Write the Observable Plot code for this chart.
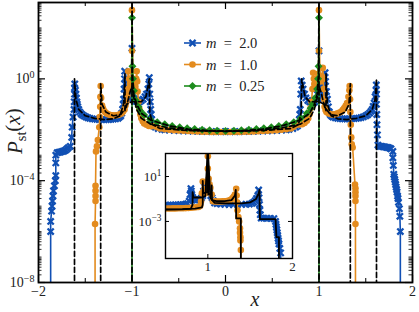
<!DOCTYPE html>
<html><head><meta charset="utf-8">
<script src="https://cdn.jsdelivr.net/npm/d3@7"></script>
<script src="https://cdn.jsdelivr.net/npm/@observablehq/plot@0.6"></script>
<style>
html,body{margin:0;padding:0;background:#fff;}
#chart{position:relative;width:419px;height:312px;overflow:hidden;background:#fff;}
#main{position:absolute;left:0;top:0;}
#inset{position:absolute;left:135px;top:151px;}
</style></head><body>
<div id="chart"><div id="main"></div><div id="inset"></div></div>
<script>
// ---- data: [x, log10 P] ----
const blueMain = [[-1.87,-9],[-1.87,-6.0],[-1.87,-5.6],[-1.86,-5.2],[-1.855,-5.0],[-1.85,-4.8],[-1.845,-4.6],[-1.84,-4.4],[-1.83,-4.2],[-1.82,-4.0],[-1.815,-3.8],[-1.815,-3.3],[-1.815,-3.0],[-1.8,-2.9],[-1.785,-2.89],[-1.77,-2.88],[-1.755,-2.86],[-1.74,-2.85],[-1.725,-2.83],[-1.71,-2.8],[-1.695,-2.75],[-1.68,-2.7],[-1.66,-2.65],[-1.645,-2.3],[-1.64,-1.9],[-1.63,-1.5],[-1.62,-1.2],[-1.618,-0.9],[-1.615,-0.6],[-1.615,-0.35],[-1.612,-0.2],[-1.605,-0.45],[-1.6,-0.6],[-1.595,-0.75],[-1.59,-0.9],[-1.585,-1.0],[-1.58,-1.1],[-1.57,-1.2],[-1.56,-1.3],[-1.545,-1.37],[-1.53,-1.42],[-1.51,-1.46],[-1.49,-1.5],[-1.47,-1.53],[-1.45,-1.55],[-1.425,-1.57],[-1.4,-1.58],[-1.375,-1.59],[-1.35,-1.6],[-1.325,-1.6],[-1.3,-1.6],[-1.275,-1.6],[-1.25,-1.6],[-1.225,-1.59],[-1.2,-1.58],[-1.175,-1.57],[-1.15,-1.55],[-1.135,-1.5],[-1.12,-1.45],[-1.11,-1.35],[-1.1,-1.2],[-1.095,-1.0],[-1.09,-0.8],[-1.085,-0.4],[-1.08,0.0],[-1.078,0.3],[-1.075,-0.2],[-1.07,-0.6],[-1.06,-0.75],[-1.05,-0.8],[-1.04,-0.8],[-1.03,-0.75],[-1.02,-0.6],[-1.01,-0.2],[-1.0,1.2],[-0.99,-0.3],[-0.98,-0.6],[-0.97,-0.8],[-0.955,-0.88],[-0.94,-0.9],[-0.92,-0.9],[-0.9,-0.85],[-0.88,-0.8],[-0.86,-0.7],[-0.845,-0.6],[-0.83,-0.4],[-0.82,-0.2],[-0.815,0.05],[-0.81,-0.6],[-0.805,-0.9],[-0.8,-1.2],[-0.795,-1.4],[-0.79,-1.6],[-0.78,-1.75],[-0.77,-1.85],[-0.75,-1.9],[-0.72,-1.95],[-0.68,-1.98],[-0.65,-2.0],[-0.6,-2.01],[-0.55,-2.02],[-0.5,-2.03],[-0.45,-2.04],[-0.4,-2.045],[-0.35,-2.05],[-0.3,-2.055],[-0.25,-2.06],[-0.2,-2.065],[-0.15,-2.07],[-0.1,-2.07],[-0.05,-2.07],[0,-2.07],[0.05,-2.07],[0.1,-2.07],[0.15,-2.07],[0.2,-2.065],[0.25,-2.06],[0.3,-2.055],[0.35,-2.05],[0.4,-2.045],[0.45,-2.04],[0.5,-2.03],[0.55,-2.02],[0.6,-2.01],[0.65,-2.0],[0.68,-1.98],[0.72,-1.95],[0.75,-1.9],[0.77,-1.85],[0.78,-1.75],[0.79,-1.6],[0.795,-1.4],[0.8,-1.2],[0.805,-0.6],[0.81,-0.08],[0.82,-0.25],[0.83,-0.4],[0.845,-0.6],[0.86,-0.75],[0.88,-0.85],[0.9,-0.9],[0.92,-0.93],[0.94,-0.95],[0.955,-0.9],[0.97,-0.8],[0.98,-0.6],[0.99,-0.3],[1.0,1.1],[1.01,-0.2],[1.02,-0.5],[1.03,-0.7],[1.04,-0.78],[1.05,-0.75],[1.055,-0.55],[1.06,-0.3],[1.065,0.24],[1.07,-0.1],[1.08,-0.5],[1.09,-0.8],[1.1,-1.1],[1.11,-1.3],[1.12,-1.4],[1.135,-1.46],[1.15,-1.5],[1.175,-1.53],[1.2,-1.55],[1.225,-1.56],[1.25,-1.57],[1.275,-1.57],[1.3,-1.57],[1.325,-1.57],[1.35,-1.56],[1.375,-1.56],[1.4,-1.55],[1.425,-1.54],[1.45,-1.52],[1.475,-1.49],[1.5,-1.45],[1.52,-1.41],[1.54,-1.35],[1.555,-1.28],[1.57,-1.2],[1.58,-1.08],[1.59,-0.95],[1.6,-0.7],[1.61,-0.45],[1.613,-0.24],[1.615,-0.6],[1.615,-1.0],[1.618,-1.4],[1.62,-1.8],[1.625,-2.2],[1.63,-2.6],[1.65,-2.65],[1.665,-2.65],[1.68,-2.66],[1.695,-2.67],[1.71,-2.68],[1.725,-2.69],[1.74,-2.7],[1.755,-2.72],[1.77,-2.75],[1.79,-2.85],[1.79,-3.1],[1.795,-3.4],[1.8,-3.75],[1.805,-3.85],[1.81,-3.95],[1.815,-4.05],[1.82,-4.15],[1.825,-4.25],[1.83,-4.35],[1.835,-4.45],[1.84,-4.6],[1.845,-4.7],[1.85,-4.85],[1.86,-5.1],[1.865,-5.4],[1.87,-6.0],[1.87,-9]];

const orangeMain = [[-1.395,-9],[-1.395,-5.7],[-1.39,-4.8],[-1.39,-4.6],[-1.39,-4.4],[-1.39,-4.2],[-1.385,-2.85],[-1.375,-2.65],[-1.365,-2.4],[-1.35,-1.9],[-1.345,-1.5],[-1.34,-1.1],[-1.338,-0.7],[-1.335,-0.28],[-1.33,-0.75],[-1.32,-1.05],[-1.31,-1.17],[-1.3,-1.25],[-1.285,-1.31],[-1.27,-1.36],[-1.25,-1.4],[-1.23,-1.42],[-1.21,-1.43],[-1.19,-1.44],[-1.17,-1.43],[-1.15,-1.42],[-1.13,-1.39],[-1.11,-1.35],[-1.095,-1.28],[-1.08,-1.2],[-1.07,-1.05],[-1.06,-0.9],[-1.05,-0.65],[-1.045,-0.4],[-1.04,0.3],[-1.03,0.0],[-1.02,-0.2],[-1.01,-0.1],[-1.0,1.1],[-1.0,2.7],[-0.99,0.0],[-0.975,-0.2],[-0.965,-0.3],[-0.955,0.0],[-0.95,0.3],[-0.945,-0.1],[-0.94,-0.5],[-0.93,-0.9],[-0.92,-1.2],[-0.91,-1.4],[-0.9,-1.55],[-0.885,-1.67],[-0.87,-1.75],[-0.845,-1.8],[-0.82,-1.85],[-0.79,-1.86],[-0.76,-1.85],[-0.73,-1.9],[-0.7,-1.95],[-0.65,-1.98],[-0.6,-2.0],[-0.55,-2.02],[-0.5,-2.03],[-0.45,-2.04],[-0.4,-2.05],[-0.35,-2.06],[-0.3,-2.07],[-0.25,-2.075],[-0.2,-2.08],[-0.15,-2.085],[-0.1,-2.09],[-0.05,-2.09],[0,-2.09],[0.05,-2.09],[0.1,-2.09],[0.15,-2.085],[0.2,-2.08],[0.25,-2.075],[0.3,-2.07],[0.35,-2.06],[0.4,-2.05],[0.45,-2.04],[0.5,-2.03],[0.55,-2.02],[0.6,-2.0],[0.65,-1.98],[0.7,-1.95],[0.73,-1.88],[0.76,-1.8],[0.79,-1.79],[0.82,-1.78],[0.845,-1.73],[0.87,-1.65],[0.885,-1.55],[0.9,-1.38],[0.91,-1.15],[0.92,-0.9],[0.93,-0.4],[0.937,0.24],[0.945,0.0],[0.95,-0.2],[0.96,-0.28],[0.97,-0.3],[0.98,-0.1],[0.99,0.2],[1.0,1.1],[1.0,2.7],[1.01,0.0],[1.02,-0.1],[1.03,0.1],[1.04,0.43],[1.045,0.0],[1.05,-0.4],[1.055,-0.8],[1.06,-1.1],[1.07,-1.22],[1.08,-1.3],[1.1,-1.35],[1.12,-1.38],[1.14,-1.4],[1.16,-1.4],[1.18,-1.38],[1.2,-1.35],[1.22,-1.32],[1.24,-1.28],[1.255,-1.22],[1.27,-1.15],[1.285,-1.06],[1.3,-0.95],[1.315,-0.7],[1.325,-0.45],[1.328,-0.28],[1.332,-0.8],[1.335,-1.3],[1.34,-1.8],[1.345,-2.3],[1.35,-2.57],[1.36,-2.7],[1.385,-4.15],[1.39,-4.3],[1.39,-4.45],[1.39,-4.6],[1.39,-4.8],[1.39,-5.7],[1.39,-9]];

const greenMain = [[-1.0,-9],[-1.0,2.4],[-0.995,0.5],[-0.99,0.0],[-0.98,-0.47],[-0.96,-0.85],[-0.93,-1.1],[-0.91,-1.26],[-0.87,-1.42],[-0.805,-1.6],[-0.73,-1.7],[-0.65,-1.78],[-0.57,-1.85],[-0.49,-1.9],[-0.41,-1.94],[-0.33,-1.97],[-0.25,-2.0],[-0.17,-2.02],[-0.09,-2.04],[0,-2.05],[0.09,-2.04],[0.17,-2.02],[0.25,-2.0],[0.33,-1.97],[0.41,-1.94],[0.49,-1.9],[0.57,-1.85],[0.65,-1.78],[0.73,-1.7],[0.805,-1.55],[0.87,-1.35],[0.91,-1.15],[0.93,-1.0],[0.96,-0.75],[0.98,-0.4],[0.99,0.0],[0.995,0.5],[1.0,2.4],[1.0,-9]];

const theoryM2 = [[-1.615,-12],[-1.615,0.0],[-1.6,-0.8],[-1.57,-1.2],[-1.5,-1.45],[-1.4,-1.55],[-1.3,-1.6],[-1.2,-1.57],[-1.13,-1.45],[-1.09,-1.0],[-1.075,0.2],[-1.075,-1.25],[-1.06,-1.0],[-1.0,-0.9],[-0.9,-0.9],[-0.85,-0.7],[-0.815,0.0],[-0.81,-1.3],[-0.78,-1.8],[-0.7,-1.95],[-0.4,-2.03],[0,-2.06],[0.4,-2.03],[0.7,-1.95],[0.78,-1.8],[0.81,-1.3],[0.815,0.0],[0.85,-0.7],[0.9,-0.9],[1.0,-0.9],[1.06,-1.0],[1.075,-1.25],[1.075,0.2],[1.09,-1.0],[1.13,-1.45],[1.2,-1.57],[1.3,-1.6],[1.4,-1.55],[1.5,-1.45],[1.57,-1.2],[1.6,-0.8],[1.615,0.0],[1.615,-12]];
const theoryM1 = [[-1.335,-12],[-1.335,-0.2],[-1.32,-1.0],[-1.28,-1.3],[-1.2,-1.45],[-1.12,-1.4],[-1.06,-1.1],[-1.02,-0.5],[-1.0,-0.3],[-0.99,-0.6],[-0.95,-1.2],[-0.9,-1.55],[-0.8,-1.78],[-0.6,-1.93],[-0.3,-2.03],[0,-2.06],[0.3,-2.03],[0.6,-1.93],[0.8,-1.78],[0.9,-1.55],[0.95,-1.2],[0.99,-0.6],[1.0,-0.3],[1.02,-0.5],[1.06,-1.1],[1.12,-1.4],[1.2,-1.45],[1.28,-1.3],[1.32,-1.0],[1.335,-0.2],[1.335,-12]];
const theoryM025 = [[-1.0,-12],[-1.0,3.5],[-0.995,0.2],[-0.98,-0.6],[-0.95,-1.0],[-0.9,-1.35],[-0.8,-1.62],[-0.6,-1.85],[-0.4,-1.97],[-0.2,-2.03],[0,-2.05],[0.2,-2.03],[0.4,-1.97],[0.6,-1.85],[0.8,-1.62],[0.9,-1.35],[0.95,-1.0],[0.98,-0.6],[0.995,0.2],[1.0,3.5],[1.0,-12]];

// inset (x from 0.5 to 2)
const blueInset = [[0.5,-1.55],[0.53,-1.55],[0.56,-1.55],[0.59,-1.54],[0.62,-1.53],[0.65,-1.52],[0.68,-1.51],[0.71,-1.5],[0.74,-1.47],[0.76,-1.42],[0.78,-1.2],[0.79,-0.6],[0.8,-0.07],[0.805,-0.3],[0.81,-0.6],[0.82,-0.85],[0.83,-1.0],[0.85,-1.08],[0.87,-1.1],[0.89,-1.08],[0.91,-1.05],[0.925,-0.9],[0.94,-0.7],[0.95,-0.3],[0.96,0.1],[0.97,0.0],[0.98,-0.2],[0.99,0.0],[1.0,0.4],[1.01,0.0],[1.02,-0.4],[1.035,-0.7],[1.05,-0.9],[1.065,-1.15],[1.08,-1.35],[1.11,-1.42],[1.15,-1.45],[1.2,-1.48],[1.25,-1.5],[1.3,-1.5],[1.35,-1.5],[1.4,-1.49],[1.45,-1.48],[1.49,-1.45],[1.52,-1.4],[1.54,-1.3],[1.56,-1.15],[1.575,-0.95],[1.59,-0.7],[1.6,-0.2],[1.605,-0.9],[1.61,-1.5],[1.615,-2.0],[1.62,-2.4],[1.63,-2.7],[1.66,-2.71],[1.7,-2.72],[1.74,-2.73],[1.78,-2.75],[1.8,-3.0],[1.805,-3.25],[1.81,-3.5],[1.815,-3.75],[1.82,-4.0],[1.825,-4.25],[1.83,-4.5],[1.835,-4.75],[1.84,-5.0],[1.85,-5.4],[1.86,-5.8],[1.86,-9]];
const orangeInset = [[0.5,-1.85],[0.53,-1.85],[0.56,-1.85],[0.59,-1.84],[0.62,-1.84],[0.65,-1.83],[0.68,-1.82],[0.71,-1.82],[0.74,-1.81],[0.77,-1.8],[0.8,-1.78],[0.83,-1.76],[0.86,-1.74],[0.89,-1.71],[0.91,-1.6],[0.92,-1.2],[0.93,-0.5],[0.94,0.55],[0.95,-0.3],[0.96,-0.45],[0.97,-0.5],[0.98,-0.1],[0.99,0.5],[1.0,1.7],[1.0,2.8],[1.01,0.8],[1.02,0.3],[1.03,0],[1.045,-0.6],[1.06,-1.2],[1.08,-1.21],[1.1,-1.22],[1.125,-1.22],[1.15,-1.22],[1.175,-1.21],[1.2,-1.2],[1.225,-1.18],[1.25,-1.15],[1.27,-1.07],[1.29,-0.95],[1.305,-0.8],[1.32,-0.6],[1.335,-0.1],[1.34,-0.7],[1.345,-1.3],[1.35,-2.0],[1.36,-2.6],[1.37,-3.0],[1.38,-3.6],[1.38,-4.0],[1.385,-4.4],[1.385,-4.7],[1.39,-5.55],[1.39,-9]];
const theoryInsetM1 = [[0.5,-1.93],[0.7,-1.9],[0.85,-1.85],[0.93,-1.75],[0.94,-1.5],[0.94,0.6],[0.945,-0.5],[0.99,-0.4],[1.0,3.5],[1.005,-0.6],[1.04,-0.5],[1.045,0.2],[1.05,-1.1],[1.1,-1.2],[1.2,-1.2],[1.28,-1.1],[1.32,-0.7],[1.33,-0.2],[1.335,-2.73],[1.39,-2.73],[1.39,-9]];
const theoryInsetM2 = [[0.5,-1.95],[0.7,-1.92],[0.8,-1.85],[0.82,-1.5],[0.82,-0.4],[0.83,-0.87],[0.92,-0.87],[0.97,-0.75],[1.0,3.5],[1.03,-0.9],[1.08,-1.35],[1.2,-1.4],[1.4,-1.4],[1.5,-1.3],[1.57,-1.0],[1.6,-0.5],[1.61,-0.2],[1.615,-2.8],[1.8,-2.8],[1.81,-4.4],[1.84,-4.4],[1.84,-9]];

// tick values and labels
const xMajor = [-2, -1, 0, 1, 2];
const xMinor = [-1.5, -0.5, 0.5, 1.5];
const yMajor = [1e-8, 1e-4, 1];
const insetYMajor = [10, 1e-3];
const insetXMajor = [1, 2];
const legendLabels = ["2.0", "1.0", "0.25"];
const colors = ["#1150b4", "#e38b1e", "#1e8c1e"];
const symbols = ["times", "circle", "diamond2"];

// ---- helpers ----
const toRows = a => a.map(([x, lp]) => ({x, y: Math.pow(10, lp)}));
const yMinor = [];
for (let k = -8; k <= 2; k++) for (let s = 1; s <= 9; s++) {
  const v = s * Math.pow(10, k);
  if (!yMajor.some(m => Math.abs(m - v) / v < 1e-9)) yMinor.push(v);
}
const supFmt = d => "10^" + Math.round(Math.log10(d));
const FONT = "Liberation Serif, DejaVu Serif, serif";

function seriesMarks(data, i) {
  const rows = toRows(data);
  const dot = symbols[i] === "times"
    ? Plot.dot(rows, {x: "x", y: "y", symbol: "times", r: 2.9, stroke: colors[i], strokeWidth: 2.3, clip: true})
    : Plot.dot(rows, {x: "x", y: "y", symbol: symbols[i], r: symbols[i] === "circle" ? 3.3 : 3.6, fill: colors[i], stroke: "none", clip: true});
  return [Plot.line(rows, {x: "x", y: "y", stroke: colors[i], strokeWidth: 1.6, clip: true}), dot];
}

const PW = 419 - 38 - 7, PH = 312 - 2 - 30;
const main = Plot.plot({
  width: 419, height: 312,
  marginLeft: 38, marginRight: 7, marginTop: 2, marginBottom: 30,
  x: {domain: [-2, 2]},
  y: {type: "log", domain: [1e-8, 1e3]},
  style: {fontFamily: FONT, fontSize: "14px", background: "transparent", color: "#222"},
  marks: [
    ...seriesMarks(blueMain, 0),
    ...seriesMarks(orangeMain, 1),
    ...seriesMarks(greenMain, 2),
    ...[theoryM2, theoryM1, theoryM025].map(t =>
      Plot.line(toRows(t), {x: "x", y: "y", stroke: "black", strokeWidth: 1.7, strokeDasharray: "5,3", clip: true})),
    Plot.tickX(xMajor, {x: d => d, insetTop: PH - 7, stroke: "black", strokeWidth: 1.2}),
    Plot.tickX(xMajor, {x: d => d, insetBottom: PH - 7, stroke: "black", strokeWidth: 1.2}),
    Plot.tickX(xMinor, {x: d => d, insetTop: PH - 4, stroke: "black", strokeWidth: 1}),
    Plot.tickX(xMinor, {x: d => d, insetBottom: PH - 4, stroke: "black", strokeWidth: 1}),
    Plot.tickY(yMajor, {y: d => d, insetRight: PW - 7, stroke: "black", strokeWidth: 1.2}),
    Plot.tickY(yMajor, {y: d => d, insetLeft: PW - 7, stroke: "black", strokeWidth: 1.2}),
    Plot.tickY(yMinor, {y: d => d, insetRight: PW - 3.5, stroke: "black", strokeWidth: 0.8}),
    Plot.tickY(yMinor, {y: d => d, insetLeft: PW - 3.5, stroke: "black", strokeWidth: 0.8}),
    Plot.frame({stroke: "black", strokeWidth: 1.8}),
    Plot.axisX(xMajor, {anchor: "bottom", tickSize: 0, tickPadding: 4, tickFormat: d => d < 0 ? "\u2212" + (-d) : String(d), label: null}),
    Plot.axisY(yMajor, {anchor: "left", tickSize: 0, tickPadding: 4, tickFormat: supFmt, label: null})
  ]
});
document.getElementById("main").appendChild(main);

const IW = 127, IH = 105;
const inset = Plot.plot({
  width: 30 + IW + 6, height: 2 + IH + 16,
  marginLeft: 30, marginRight: 6, marginTop: 2, marginBottom: 16,
  x: {domain: [0.5, 2]},
  y: {type: "log", domain: [Math.pow(10, -6.3), Math.pow(10, 3.05)]},
  style: {fontFamily: FONT, fontSize: "13px", background: "transparent", color: "#222"},
  marks: [
    Plot.frame({fill: "white"}),
    ...seriesMarks(blueInset, 0),
    ...seriesMarks(orangeInset, 1),
    ...[theoryInsetM2, theoryInsetM1].map(t =>
      Plot.line(toRows(t), {x: "x", y: "y", stroke: "black", strokeWidth: 1.8, clip: true})),
    Plot.tickY(insetYMajor, {y: d => d, insetRight: IW - 4, stroke: "black", strokeWidth: 1}),
    Plot.tickY(insetYMajor, {y: d => d, insetLeft: IW - 4, stroke: "black", strokeWidth: 1}),
    Plot.tickX([1], {x: d => d, insetTop: IH - 4, stroke: "black", strokeWidth: 1}),
    Plot.tickX([1], {x: d => d, insetBottom: IH - 4, stroke: "black", strokeWidth: 1}),
    Plot.frame({stroke: "black", strokeWidth: 1.4}),
    Plot.axisX(insetXMajor, {anchor: "bottom", tickSize: 0, tickPadding: 3, tickFormat: d => String(d), label: null}),
    Plot.axisY(insetYMajor, {anchor: "left", tickSize: 0, tickPadding: 4, tickFormat: supFmt, label: null})
  ]
});
document.getElementById("inset").appendChild(inset);

// superscripts for 10^k labels
[main, inset].forEach(svg => {
  d3.select(svg).selectAll("text").each(function () {
    const m = /^10\^(.+)$/.exec(this.textContent);
    if (m) {
      const s = d3.select(this);
      s.text("10");
      s.append("tspan").attr("dy", "-0.5em").attr("font-size", "0.72em").text(m[1].replace("-", "\u2212"));
    }
  });
});

// legend, axis labels
const svg = d3.select(main);
const legendY = [43, 64.5, 86];
legendLabels.forEach((lab, i) => {
  const g = svg.append("g");
  const y = legendY[i];
  g.append("line").attr("x1", 184).attr("x2", 201).attr("y1", y).attr("y2", y)
    .attr("stroke", colors[i]).attr("stroke-width", 1.6);
  const type = symbols[i] === "times" ? (d3.symbolTimes || d3.symbolCross)
             : symbols[i] === "circle" ? d3.symbolCircle : (d3.symbolDiamond2 || d3.symbolDiamond);
  const r = symbols[i] === "circle" ? 3.3 : symbols[i] === "times" ? 2.9 : 3.6;
  const p = g.append("path").attr("transform", `translate(192.5,${y})`)
    .attr("d", d3.symbol(type, Math.PI * r * r)());
  if (symbols[i] === "times") p.attr("fill", "none").attr("stroke", colors[i]).attr("stroke-width", 2.3);
  else p.attr("fill", colors[i]);
  const t = g.append("text").attr("x", 206).attr("y", y + 5).attr("text-anchor", "start")
    .style("text-anchor", "start")
    .attr("font-family", FONT).attr("font-size", 14.5).attr("fill", "#222");
  t.append("tspan").attr("font-style", "italic").text("m");
  t.append("tspan").text("\u2002=\u2002" + lab);
});

svg.append("text").attr("x", 255).attr("y", 306).attr("text-anchor", "middle")
  .attr("font-family", FONT).attr("font-size", 20).attr("font-style", "italic").attr("fill", "#222").text("x");

const yl = svg.append("text").attr("transform", "translate(22,154) rotate(-90)")
  .attr("text-anchor", "start").style("text-anchor", "start")
  .attr("font-family", FONT).attr("font-size", 21).attr("fill", "#222");
yl.append("tspan").attr("font-style", "italic").text("P");
yl.append("tspan").attr("font-size", "0.68em").attr("dy", "0.3em").text("st");
yl.append("tspan").attr("dy", "-0.3em").text("(");
yl.append("tspan").attr("font-style", "italic").text("x");
yl.append("tspan").text(")");
</script></body></html>
